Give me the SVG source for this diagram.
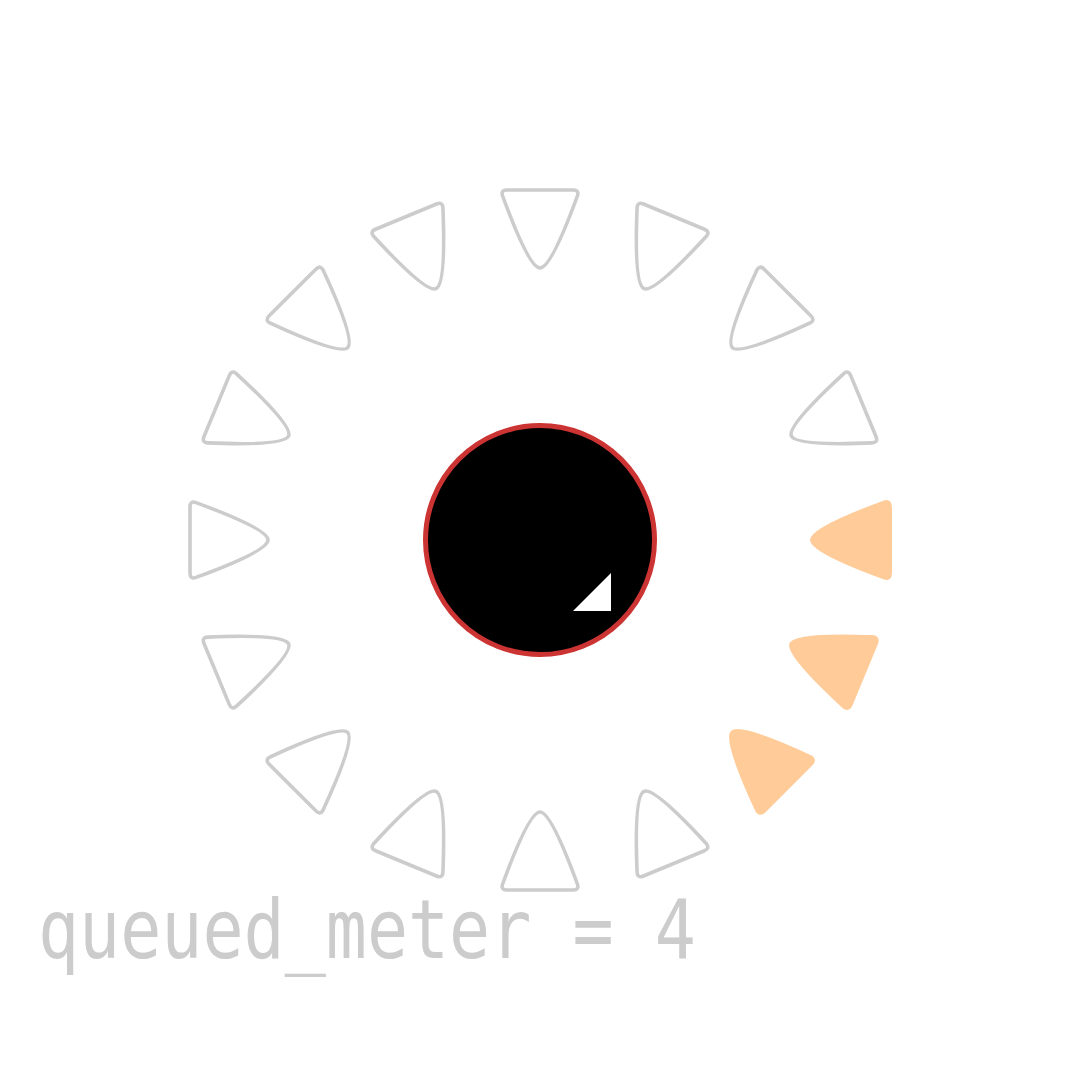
<svg xmlns="http://www.w3.org/2000/svg" xmlns:xlink="http://www.w3.org/1999/xlink" width="1080" height="1080" viewBox="0 0 1080 1080">
  <style>
    .seg { fill: none; stroke: #cccccc; stroke-width: 3.6; stroke-linejoin: round; }
    .on { fill: #ffcc99; stroke: #ffcc99; stroke-width: 4; stroke-linejoin: round; }
    .label { font-family: "DejaVu Sans Mono", "Liberation Mono", monospace; font-size: 68.3px; fill: #cccccc; }
  </style>
  <defs>
    <path id="seg" d="M350,-33 L350,33 Q350,39.5 344,37.4 Q272,11 272,0 Q272,-11 344,-37.4 Q350,-39.5 350,-33 Z"/>
  </defs>
  <rect width="1080" height="1080" fill="#ffffff"/>
  <g id="meter">
    <use id="seg-0" xlink:href="#seg" class="on" transform="translate(540,540) rotate(0)"/>
    <use id="seg-1" xlink:href="#seg" class="on" transform="translate(540,540) rotate(22.5)"/>
    <use id="seg-2" xlink:href="#seg" class="on" transform="translate(540,540) rotate(45)"/>
    <use id="seg-3" xlink:href="#seg" class="seg" transform="translate(540,540) rotate(67.5)"/>
    <use id="seg-4" xlink:href="#seg" class="seg" transform="translate(540,540) rotate(90)"/>
    <use id="seg-5" xlink:href="#seg" class="seg" transform="translate(540,540) rotate(112.5)"/>
    <use id="seg-6" xlink:href="#seg" class="seg" transform="translate(540,540) rotate(135)"/>
    <use id="seg-7" xlink:href="#seg" class="seg" transform="translate(540,540) rotate(157.5)"/>
    <use id="seg-8" xlink:href="#seg" class="seg" transform="translate(540,540) rotate(180)"/>
    <use id="seg-9" xlink:href="#seg" class="seg" transform="translate(540,540) rotate(202.5)"/>
    <use id="seg-10" xlink:href="#seg" class="seg" transform="translate(540,540) rotate(225)"/>
    <use id="seg-11" xlink:href="#seg" class="seg" transform="translate(540,540) rotate(247.5)"/>
    <use id="seg-12" xlink:href="#seg" class="seg" transform="translate(540,540) rotate(270)"/>
    <use id="seg-13" xlink:href="#seg" class="seg" transform="translate(540,540) rotate(292.5)"/>
    <use id="seg-14" xlink:href="#seg" class="seg" transform="translate(540,540) rotate(315)"/>
    <use id="seg-15" xlink:href="#seg" class="seg" transform="translate(540,540) rotate(337.5)"/>
  </g>
  <g id="hub">
    <circle cx="540" cy="540" r="114.5" fill="#000000" stroke="#cc3333" stroke-width="5"/>
    <polygon points="573,611 611,611 611,573" fill="#ffffff"/>
  </g>
  <g id="connectors"/>
  <text class="label" transform="translate(38,958) scale(1,1.21)" x="0" y="0">queued_meter = 4</text>
</svg>
